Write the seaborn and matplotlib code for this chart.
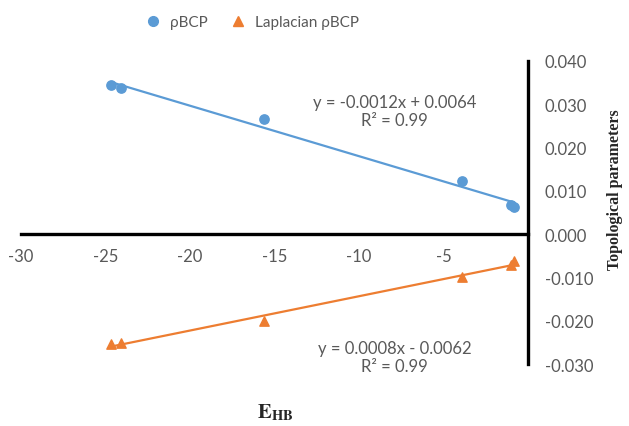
import numpy as np
import pandas as pd
import matplotlib
matplotlib.use("Agg")
import matplotlib.pyplot as plt
import seaborn as sns

# values
e_hb = [-24.7, -24.1, -15.6, -3.9, -1.0, -0.8]
rho_bcp = [0.0344, 0.0337, 0.0266, 0.0122, 0.0067, 0.0062]
lap_rho_bcp = [-0.0254, -0.0252, -0.0201, -0.0099, -0.0072, -0.0062]

x_ticks = [-30, -25, -20, -15, -10, -5]
y_ticks = [-0.030, -0.020, -0.010, 0.000, 0.010, 0.020, 0.030, 0.040]

blue = "#5B9BD5"
orange = "#ED7D31"
grey = "#595959"

df = pd.DataFrame({"E_HB": e_hb, "rho": rho_bcp, "lap": lap_rho_bcp})

sns.set_style("white")
plt.rcParams["font.family"] = ["Lato", "DejaVu Sans"]
plt.rcParams["mathtext.fontset"] = "stix"

fig = plt.figure(figsize=(6.29, 4.27), dpi=100)
ax = fig.add_axes([0.0334, 0.145, 0.806, 0.71])

sns.regplot(x="E_HB", y="rho", data=df, ax=ax, ci=None, truncate=True,
            color=blue, marker="o",
            scatter_kws={"s": 45, "alpha": 1, "clip_on": False, "zorder": 4},
            line_kws={"lw": 1.6})
sns.regplot(x="E_HB", y="lap", data=df, ax=ax, ci=None, truncate=True,
            color=orange, marker="^",
            scatter_kws={"s": 45, "alpha": 1, "clip_on": False, "zorder": 4},
            line_kws={"lw": 1.6})

ax.set_xlim(-30, 0)
ax.set_ylim(-0.030, 0.040)

# axes cross at the origin, Excel style
ax.spines["left"].set_visible(False)
ax.spines["top"].set_visible(False)
ax.spines["right"].set_position(("data", 0))
ax.spines["bottom"].set_position(("data", 0))
for s in ["right", "bottom"]:
    ax.spines[s].set_linewidth(2.4)
    ax.spines[s].set_color("black")

ax.yaxis.tick_right()
ax.set_xticks(x_ticks)
ax.set_xticklabels([str(t) for t in x_ticks])
ax.set_yticks(y_ticks)
ax.set_yticklabels([f"{t:.3f}" for t in y_ticks])
ax.tick_params(axis="x", length=0, pad=10, labelsize=12, labelcolor=grey)
ax.tick_params(axis="y", length=0, pad=12, labelsize=12, labelcolor=grey)
ax.set_xlabel("")
ax.set_ylabel("")

ax.text(-7.9, 0.0284, "y = -0.0012x + 0.0064\nR² = 0.99", ha="center",
        va="center", fontsize=12, color=grey, linespacing=1.15)
ax.text(-7.9, -0.0284, "y = 0.0008x - 0.0062\nR² = 0.99", ha="center",
        va="center", fontsize=12, color=grey, linespacing=1.15)

fig.text(615 / 629, 1 - 190 / 427, "Topological parameters", rotation=90,
         ha="center", va="center", fontsize=11.5, fontweight="bold",
         family="Liberation Serif")
fig.text(275 / 629, 1 - 413 / 427, r"$\mathbf{E}_{\mathbf{HB}}$",
         ha="center", va="center", fontsize=15)

handles = [
    plt.Line2D([], [], ls="", marker="o", color=blue, markersize=7),
    plt.Line2D([], [], ls="", marker="^", color=orange, markersize=7),
]
fig.legend(handles, ["ρBCP", "Laplacian ρBCP"], loc="center",
           bbox_to_anchor=(0.395, 0.946), ncol=2, frameon=False,
           fontsize=11, handletextpad=0.1, columnspacing=1.0,
           labelcolor=grey)

fig.savefig("out.png", dpi=100)
